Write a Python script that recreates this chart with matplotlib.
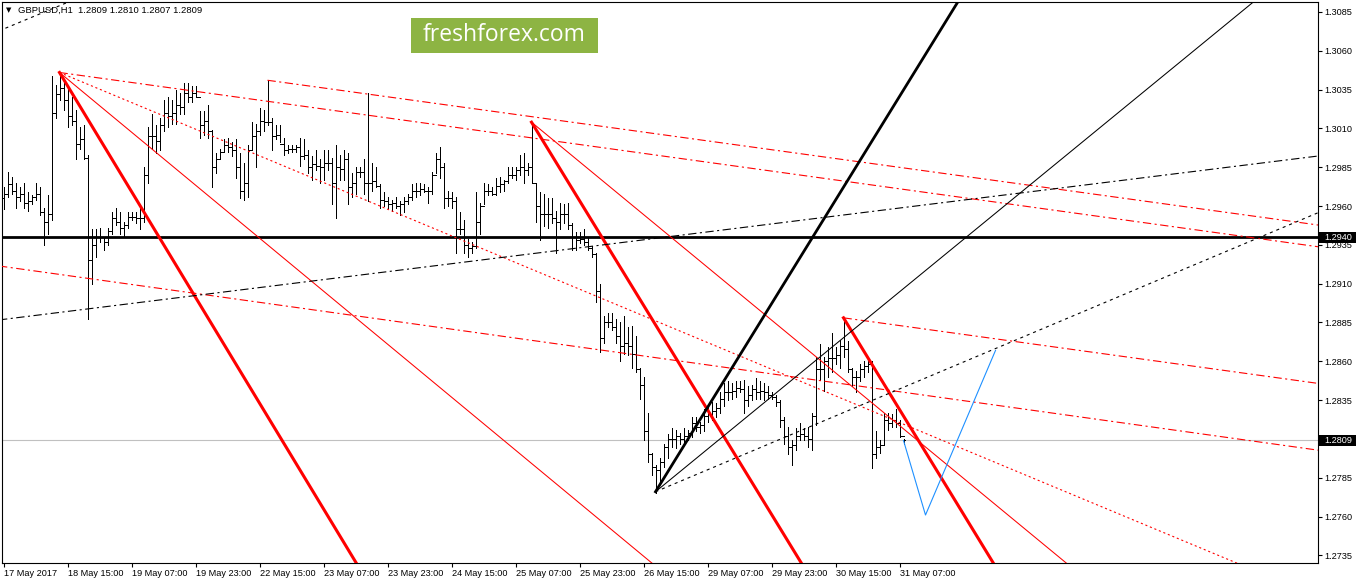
import matplotlib
matplotlib.use('Agg')
import matplotlib.pyplot as plt
from matplotlib.collections import LineCollection
from matplotlib.patches import Rectangle

plt.rcParams['lines.scale_dashes'] = False
FONT = ['Liberation Sans', 'DejaVu Sans']
plt.rcParams['font.family'] = FONT

# ---------------- data (GBPUSD H1 bars, index 0 = 17 May 2017 23:00) ----------------
highs = [
    1.2972, 1.2982, 1.2979, 1.2975, 1.2972, 1.2975, 1.2969, 1.2967, 1.2975, 1.2972,
    1.2959, 1.2967, 1.3044, 1.3038, 1.3046, 1.3041, 1.3037, 1.3030, 1.3022, 1.3011,
    1.3012, 1.2993, 1.2945, 1.2945, 1.2946, 1.2940, 1.2946, 1.2956, 1.2959, 1.2956,
    1.2950, 1.2956, 1.2956, 1.2956, 1.2959, 1.2985, 1.3011, 1.3019, 1.3012, 1.3017,
    1.3028, 1.3030, 1.3028, 1.3035, 1.3033, 1.3039, 1.3039, 1.3037, 1.3037, 1.3021,
    1.3021, 1.3025, 1.3009, 1.2994, 1.2997, 1.3003, 1.3004, 1.3001, 1.3003, 1.2994,
    1.2988, 1.2999, 1.3014, 1.3013, 1.3023, 1.3022, 1.3041, 1.3017, 1.3012, 1.3012,
    1.3004, 1.2999, 1.2999, 1.2999, 1.3004, 1.3003, 1.2996, 1.2992, 1.2996, 1.2990,
    1.2996, 1.2996, 1.2991, 1.2999, 1.2993, 1.2996, 1.2994, 1.2981, 1.2985, 1.2985,
    1.2990, 1.3033, 1.2988, 1.2985, 1.2974, 1.2969, 1.2966, 1.2964, 1.2966, 1.2963,
    1.2966, 1.2968, 1.2974, 1.2975, 1.2975, 1.2974, 1.2972, 1.2982, 1.2994, 1.2998,
    1.2988, 1.2970, 1.2969, 1.2966, 1.2956, 1.2951, 1.2939, 1.2937, 1.2969, 1.2962,
    1.2975, 1.2974, 1.2972, 1.2978, 1.2979, 1.2977, 1.2985, 1.2985, 1.2985, 1.2993,
    1.2994, 1.2988, 1.3013, 1.2975, 1.2969, 1.2968, 1.2965, 1.2965, 1.2957, 1.2962,
    1.2961, 1.2962, 1.2949, 1.2943, 1.2943, 1.2945, 1.2940, 1.2934, 1.2930, 1.2910,
    1.2889, 1.2891, 1.2891, 1.2887, 1.2885, 1.2889, 1.2882, 1.2883, 1.2876, 1.2856,
    1.2850, 1.2827, 1.2801, 1.2793, 1.2798, 1.2807, 1.2813, 1.2817, 1.2816, 1.2814,
    1.2817, 1.2816, 1.2824, 1.2824, 1.2821, 1.2829, 1.2831, 1.2834, 1.2833, 1.2840,
    1.2846, 1.2847, 1.2846, 1.2847, 1.2847, 1.2848, 1.2844, 1.2845, 1.2849, 1.2847,
    1.2846, 1.2844, 1.2840, 1.2838, 1.2835, 1.2824, 1.2818, 1.2809, 1.2817, 1.2820,
    1.2817, 1.2818, 1.2827, 1.2863, 1.2871, 1.2863, 1.2869, 1.2878, 1.2869, 1.2874,
    1.2888, 1.2873, 1.2856, 1.2854, 1.2858, 1.2860, 1.2862, 1.2860, 1.2815, 1.2809,
    1.2827, 1.2827, 1.2826, 1.2829, 1.2822, 1.2810,
]
lows = [
    1.2958, 1.2966, 1.2968, 1.2959, 1.2963, 1.2959, 1.2957, 1.2961, 1.2964, 1.2954,
    1.2935, 1.2942, 1.2951, 1.3017, 1.3028, 1.3022, 1.3011, 1.3012, 1.2990, 1.2997,
    1.2990, 1.2887, 1.2910, 1.2927, 1.2937, 1.2932, 1.2935, 1.2942, 1.2948, 1.2942,
    1.2941, 1.2946, 1.2951, 1.2949, 1.2945, 1.2950, 1.2975, 1.2997, 1.2994, 1.2996,
    1.3008, 1.3011, 1.3013, 1.3013, 1.3019, 1.3019, 1.3027, 1.3027, 1.3030, 1.3004,
    1.3006, 1.3004, 1.2972, 1.2981, 1.2990, 1.2995, 1.2995, 1.2992, 1.2978, 1.2965,
    1.2964, 1.2966, 1.2996, 1.2985, 1.3006, 1.3008, 1.3012, 1.2996, 1.3003, 1.3001,
    1.2993, 1.2994, 1.2995, 1.2995, 1.2986, 1.2990, 1.2981, 1.2977, 1.2983, 1.2975,
    1.2977, 1.2983, 1.2961, 1.2952, 1.2977, 1.2977, 1.2961, 1.2966, 1.2968, 1.2979,
    1.2968, 1.2963, 1.2970, 1.2972, 1.2959, 1.2960, 1.2959, 1.2957, 1.2959, 1.2954,
    1.2956, 1.2961, 1.2964, 1.2966, 1.2967, 1.2969, 1.2962, 1.2968, 1.2981, 1.2978,
    1.2959, 1.2960, 1.2959, 1.2930, 1.2942, 1.2930, 1.2927, 1.2930, 1.2933, 1.2942,
    1.2961, 1.2967, 1.2967, 1.2967, 1.2969, 1.2970, 1.2975, 1.2978, 1.2977, 1.2980,
    1.2975, 1.2980, 1.2975, 1.2950, 1.2938, 1.2947, 1.2946, 1.2949, 1.2930, 1.2945,
    1.2949, 1.2945, 1.2932, 1.2932, 1.2936, 1.2935, 1.2932, 1.2927, 1.2898, 1.2866,
    1.2872, 1.2882, 1.2880, 1.2872, 1.2860, 1.2865, 1.2864, 1.2856, 1.2853, 1.2836,
    1.2809, 1.2795, 1.2787, 1.2775, 1.2782, 1.2792, 1.2798, 1.2805, 1.2804, 1.2807,
    1.2808, 1.2809, 1.2811, 1.2815, 1.2814, 1.2815, 1.2821, 1.2822, 1.2824, 1.2827,
    1.2831, 1.2835, 1.2836, 1.2837, 1.2840, 1.2827, 1.2831, 1.2835, 1.2836, 1.2836,
    1.2835, 1.2836, 1.2836, 1.2831, 1.2818, 1.2807, 1.2800, 1.2793, 1.2803, 1.2809,
    1.2809, 1.2805, 1.2803, 1.2819, 1.2848, 1.2841, 1.2850, 1.2853, 1.2858, 1.2856,
    1.2863, 1.2853, 1.2844, 1.2840, 1.2847, 1.2850, 1.2853, 1.2791, 1.2798, 1.2801,
    1.2807, 1.2816, 1.2818, 1.2818, 1.2811, 1.2807,
]
closes = [
    1.2968, 1.2974, 1.2970, 1.2966, 1.2968, 1.2962, 1.2963, 1.2966, 1.2968, 1.2956,
    1.2950, 1.2955, 1.3020, 1.3032, 1.3036, 1.3028, 1.3018, 1.3015, 1.3000, 1.3003,
    1.2991, 1.2925, 1.2935, 1.2940, 1.2940, 1.2937, 1.2944, 1.2952, 1.2950, 1.2946,
    1.2948, 1.2953, 1.2953, 1.2952, 1.2952, 1.2980, 1.3005, 1.3005, 1.3002, 1.3012,
    1.3020, 1.3018, 1.3020, 1.3025, 1.3024, 1.3033, 1.3030, 1.3033, 1.3030, 1.3012,
    1.3015, 1.3008, 1.2985, 1.2990, 1.2995, 1.2999, 1.2998, 1.2996, 1.2985, 1.2970,
    1.2975, 1.2996, 1.3005, 1.3008, 1.3015, 1.3014, 1.3014, 1.3005, 1.3006, 1.3000,
    1.2996, 1.2997, 1.2997, 1.2998, 1.2992, 1.2993, 1.2985, 1.2987, 1.2986, 1.2985,
    1.2988, 1.2988, 1.2975, 1.2985, 1.2984, 1.2990, 1.2972, 1.2975, 1.2982, 1.2982,
    1.2975, 1.2975, 1.2976, 1.2973, 1.2964, 1.2963, 1.2961, 1.2962, 1.2960, 1.2961,
    1.2963, 1.2966, 1.2970, 1.2970, 1.2971, 1.2970, 1.2970, 1.2980, 1.2990, 1.2985,
    1.2965, 1.2965, 1.2963, 1.2945, 1.2945, 1.2935, 1.2933, 1.2934, 1.2950, 1.2960,
    1.2970, 1.2970, 1.2968, 1.2973, 1.2974, 1.2976, 1.2980, 1.2980, 1.2983, 1.2985,
    1.2983, 1.2985, 1.2975, 1.2960, 1.2955, 1.2955, 1.2955, 1.2952, 1.2950, 1.2955,
    1.2955, 1.2948, 1.2940, 1.2938, 1.2939, 1.2937, 1.2933, 1.2929, 1.2905, 1.2875,
    1.2885, 1.2885, 1.2882, 1.2876, 1.2870, 1.2872, 1.2870, 1.2865, 1.2855, 1.2845,
    1.2815, 1.2800, 1.2792, 1.2790, 1.2795, 1.2805, 1.2810, 1.2810, 1.2812, 1.2810,
    1.2812, 1.2814, 1.2820, 1.2818, 1.2819, 1.2825, 1.2826, 1.2828, 1.2830, 1.2836,
    1.2840, 1.2840, 1.2841, 1.2843, 1.2842, 1.2835, 1.2838, 1.2842, 1.2840, 1.2841,
    1.2840, 1.2838, 1.2837, 1.2834, 1.2822, 1.2812, 1.2805, 1.2806, 1.2812, 1.2813,
    1.2812, 1.2810, 1.2825, 1.2855, 1.2855, 1.2860, 1.2862, 1.2862, 1.2864, 1.2870,
    1.2868, 1.2855, 1.2850, 1.2850, 1.2855, 1.2857, 1.2858, 1.2800, 1.2805, 1.2806,
    1.2822, 1.2820, 1.2822, 1.2820, 1.2812, 1.2809,
]
first_open = 1.2965
opens = [first_open] + closes[:-1]

date_tick_bars = [0, 16, 32, 48, 64, 80, 96, 112, 128, 144, 160, 176, 192, 208, 224]
date_labels = ['17 May 2017', '18 May 15:00', '19 May 07:00', '19 May 23:00', '22 May 15:00',
               '23 May 07:00', '23 May 23:00', '24 May 15:00', '25 May 07:00', '25 May 23:00',
               '26 May 15:00', '29 May 07:00', '29 May 23:00', '30 May 15:00', '31 May 07:00']
price_ticks = [1.2735, 1.2760, 1.2785, 1.2810, 1.2835, 1.2860, 1.2885, 1.2910,
               1.2935, 1.2960, 1.2985, 1.3010, 1.3035, 1.3060, 1.3085]

level_price = 1.2940
bid_price = 1.2809
title = 'GBPUSD,H1  1.2809 1.2810 1.2807 1.2809'

# trend-line anchors (bar index, price)
red_thick_1 = [(14, 1.3046), (45, 1.2914)]
red_thin_1 = [(14, 1.3046), (134, 1.2790)]
red_dotted_1 = [(14, 1.3046), (300, 1.2739)]
red_dd_a = [(14, 1.3046), (328, 1.2934)]
red_dd_b = [(66, 1.3041), (328, 1.2948)]
red_dd_c = [(0, 1.2921), (328, 1.2803)]
red_dd_e = [(210, 1.2888), (328, 1.2846)]
red_thick_2 = [(132, 1.3014), (199, 1.2732)]
red_thin_2 = [(132, 1.3014), (229, 1.2808)]
red_thick_3 = [(210, 1.2888), (247, 1.2732)]
black_thick = [(163, 1.2776), (238, 1.3089)]
black_thin = [(163, 1.2776), (299, 1.3063)]
black_dashed = [(163, 1.2776), (328, 1.2955)]
black_dashed_2 = [(0, 1.3074), (14, 1.3089)]
black_dd = [(0, 1.2887), (328, 1.2992)]
blue_x = [225, 230.5, 248]
blue_y = [1.2809, 1.2761, 1.2867]

# ---------------- figure ----------------
W, H = 1358, 584
fig = plt.figure(figsize=(W / 100, H / 100), dpi=100)
ax = fig.add_axes([2 / W, 21 / H, 1316 / W, 561 / H])
ax.set_xlim(-0.375, 328.625)
ax.set_ylim(1.27301, 1.30914)


def fx(px):
    return px / W


def fy(py):
    return 1 - py / H


# bars
n = len(highs)
segs = []
for i in range(n):
    segs.append([(i, lows[i]), (i, highs[i])])
    segs.append([(i - 0.3, opens[i]), (i, opens[i])])
    segs.append([(i, closes[i]), (i + 0.3, closes[i])])
ax.add_collection(LineCollection(segs, colors='black', linewidths=0.55, zorder=2,
                                 antialiaseds=False))

# horizontal lines
ax.axhline(bid_price, color='#c0c0c0', lw=0.8, zorder=1)
ax.axhline(level_price, color='black', lw=2.0, zorder=4)


def ray(pts, both=False, **kw):
    (x1, y1), (x2, y2) = pts
    s = (y2 - y1) / (x2 - x1)
    xa = -20 if both else x1
    xb = 420
    ax.plot([xa, xb], [y1 + s * (xa - x1), y1 + s * (xb - x1)], zorder=5, **kw)


RED = '#ff0000'
DD = (0, (6, 2.5, 1.5, 2.5))
DOT = (0, (1.5, 2))
DASH = (0, (2.2, 2.8))

ray(red_thick_1, color=RED, lw=2.2)
ray(red_thin_1, color=RED, lw=0.75)
ray(red_dotted_1, color=RED, lw=0.8, linestyle=DOT)
ray(red_dd_a, color=RED, lw=0.8, linestyle=DD)
ray(red_dd_b, color=RED, lw=0.8, linestyle=DD)
ray(red_dd_c, both=True, color=RED, lw=0.8, linestyle=DD)
ray(red_dd_e, color=RED, lw=0.8, linestyle=DD)
ray(red_thick_2, color=RED, lw=2.2)
ray(red_thin_2, color=RED, lw=0.75)
ray(red_thick_3, color=RED, lw=2.2)
ray(black_thick, color='black', lw=2.0)
ray(black_thin, color='black', lw=0.75)
ray(black_dashed, color='black', lw=0.8, linestyle=DASH)
ray(black_dashed_2, both=True, color='black', lw=0.8, linestyle=DASH)
ray(black_dd, both=True, color='black', lw=0.8, linestyle=DD)
ax.plot(blue_x, blue_y, color='#1e90ff', lw=0.8, zorder=5)

# axes styling
for sp in ax.spines.values():
    sp.set_color('black')
    sp.set_linewidth(0.8)
ax.yaxis.tick_right()
ax.set_yticks(price_ticks)
ax.set_yticklabels([f'{p:.4f}' for p in price_ticks])
ax.set_xticks(date_tick_bars)
ax.set_xticklabels(date_labels, ha='left')
ax.tick_params(axis='y', direction='out', length=3, width=0.8, pad=1.5, labelsize=6.6,
               labelcolor='black')
ax.tick_params(axis='x', direction='out', length=3, width=0.8, pad=1.5, labelsize=6.6,
               labelcolor='black')

# title
fig.text(fx(6), fy(10.5), '\u25BC', fontsize=5, va='center', ha='left', family=['DejaVu Sans'])
fig.text(fx(18), fy(10.5), title, fontsize=6.8, va='center', ha='left', color='black')

# price boxes on the right axis
for price in (level_price, bid_price):
    py = 12 + (1.3085 - price) / 0.0025 * 38.83
    fig.patches.append(Rectangle((fx(1319), fy(py + 5.5)), 37 / W, 11 / H, transform=fig.transFigure,
                                 facecolor='black', edgecolor='none', zorder=10))
    fig.text(fx(1324), fy(py), f'{price:.4f}', fontsize=6.6, color='white', va='center', ha='left',
             zorder=11)

# logo
fig.patches.append(Rectangle((fx(411), fy(52.7)), 187 / W, 34.4 / H, transform=fig.transFigure,
                             facecolor='#8db443', edgecolor='none', zorder=10))
fig.text(fx(504.5), fy(35), 'freshforex.com', fontsize=16.5, color='white', ha='center', va='center',
         family=['Open Sans', 'DejaVu Sans'], zorder=11)

fig.savefig('out.png', dpi=100, facecolor='white')
